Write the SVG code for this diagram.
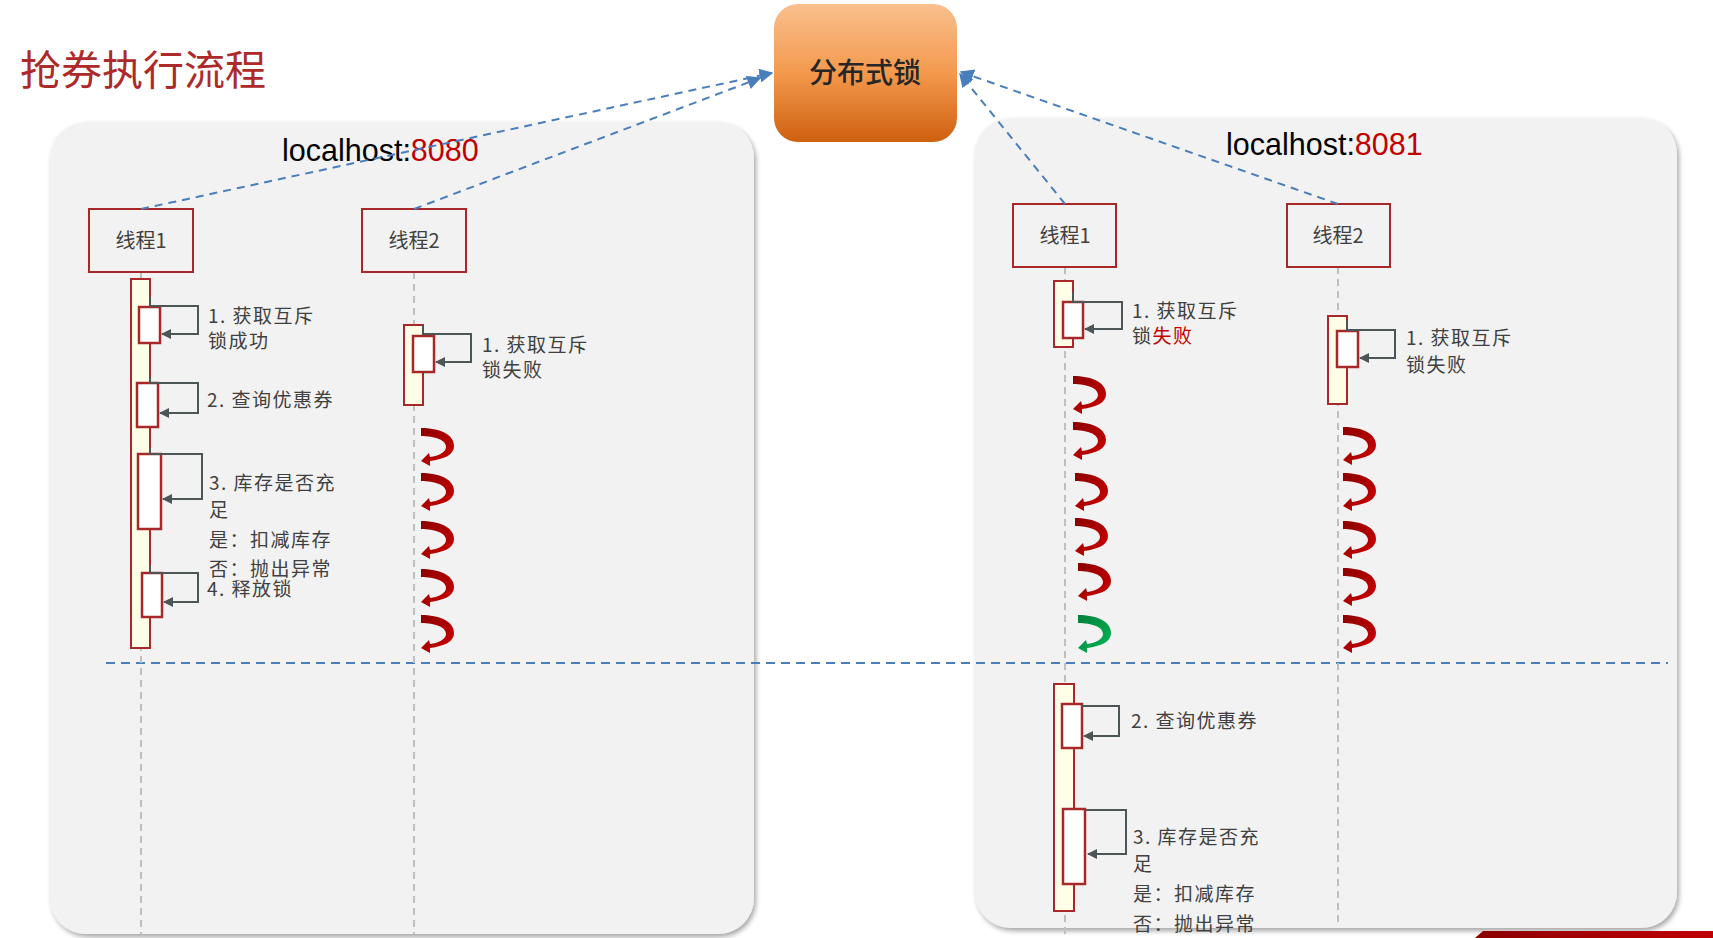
<svg xmlns="http://www.w3.org/2000/svg" width="1713" height="938" viewBox="0 0 1713 938">
<style>
.panel{fill:#F2F2F2;}
.thread{fill:none;stroke:#A8282A;stroke-width:2;}
.tt{font-family:"Noto Sans CJK SC","Noto Sans",sans-serif;font-size:20px;fill:#404040;text-anchor:middle;}
.lbl{font-family:"Noto Sans CJK SC","Noto Sans",sans-serif;font-size:19px;letter-spacing:1.5px;fill:#404040;}
.life{stroke:#BFBFBF;stroke-width:2;stroke-dasharray:7 5;fill:none;}
.act{fill:#FFFFE8;stroke:#A8282A;stroke-width:2;}
.sub{fill:#FFFFFF;stroke:#A8282A;stroke-width:2.5;}
.self{fill:none;stroke:#4D5656;stroke-width:2;marker-end:url(#ga);}
.conn{fill:none;stroke:#4A7EBB;stroke-width:2;stroke-dasharray:8 6;marker-end:url(#ba);}
.host{font-family:"Liberation Sans","Noto Sans",sans-serif;font-size:30.5px;fill:#000;}
.red{fill:#C00000;}
</style>
<defs>
<filter id="sh" x="-5%" y="-5%" width="110%" height="110%">
<feDropShadow dx="2" dy="3" stdDeviation="2.5" flood-color="#000" flood-opacity="0.35"/>
</filter>
<linearGradient id="og" x1="0" y1="0" x2="0" y2="1">
<stop offset="0" stop-color="#F9C08E"/>
<stop offset="0.5" stop-color="#F3994D"/>
<stop offset="1" stop-color="#CE600F"/>
</linearGradient>
<linearGradient id="rg" x1="0" y1="0" x2="1" y2="1">
<stop offset="0" stop-color="#8B0000"/>
<stop offset="1" stop-color="#D00000"/>
</linearGradient>
<linearGradient id="gg" x1="0" y1="0" x2="1" y2="1">
<stop offset="0" stop-color="#00803C"/>
<stop offset="1" stop-color="#00B854"/>
</linearGradient>
<linearGradient id="bannerg" x1="0" y1="0" x2="1" y2="0">
<stop offset="0" stop-color="#8B0000"/>
<stop offset="1" stop-color="#C00000"/>
</linearGradient>
<path id="curl" d="M0,0 C18,0 33,6 33,18 C33,27 23,31 9,33 L9,38 L0,33 L8,25 L9,29 C18,28 25,24 25,19 C25,12 14,8 0,8 Z"/>
<marker id="ga" viewBox="0 0 10 10" refX="9" refY="5" markerWidth="5" markerHeight="5" orient="auto" markerUnits="strokeWidth">
<path d="M0,0 L10,5 L0,10 Z" fill="#4D5656"/>
</marker>
<marker id="ba" viewBox="0 0 10 10" refX="9" refY="5" markerWidth="7" markerHeight="7" orient="auto" markerUnits="strokeWidth">
<path d="M0,0 L10,5 L0,10 Z" fill="#4A7EBB"/>
</marker>
</defs>

<text x="20" y="85" font-family="Noto Sans CJK SC,sans-serif" font-size="41" fill="#AE2A2A">抢券执行流程</text>

<g id="panel-8080">
<rect class="panel" x="50" y="122" width="704" height="812" rx="36" filter="url(#sh)"/>
<text class="host" x="282" y="161">localhost:<tspan class="red">8080</tspan></text>
</g>
<g id="panel-8081">
<rect class="panel" x="975" y="118" width="702" height="810" rx="36" filter="url(#sh)"/>
<text class="host" x="1226" y="155">localhost:<tspan class="red">8081</tspan></text>
</g>

<g id="lock">
<rect x="774" y="4" width="183" height="138" rx="24" fill="url(#og)"/>
<text x="865" y="83" font-family="Noto Sans CJK SC,sans-serif" font-size="28" fill="#262626" text-anchor="middle" font-weight="500">分布式锁</text>
</g>

<g id="divider">
<line x1="106" y1="663" x2="1668" y2="663" stroke="#4A7EBB" stroke-width="2" stroke-dasharray="9 6"/>
</g>

<g id="a-thread1">
<line class="life" x1="141" y1="272" x2="141" y2="934"/>
<rect class="thread" x="89" y="209" width="104" height="63"/>
<text class="tt" x="141" y="248">线程1</text>
<rect class="act" x="131" y="279" width="19" height="369"/>
<rect class="sub" x="139" y="307" width="21" height="36"/>
<path class="self" d="M150,297 V306 H198 V334 H162"/>
<text class="lbl" x="208" y="323">1. 获取互斥</text>
<text class="lbl" x="208" y="348">锁成功</text>
<rect class="sub" x="137" y="383" width="21" height="44"/>
<path class="self" d="M150,377 V383 H198 V413 H160"/>
<text class="lbl" x="207" y="407">2. 查询优惠券</text>
<rect class="sub" x="138" y="454" width="23" height="75"/>
<path class="self" d="M150,448 V454 H202 V499 H163"/>
<text class="lbl" x="209" y="490">3. 库存是否充</text>
<text class="lbl" x="209" y="517">足</text>
<text class="lbl" x="209" y="547">是：扣减库存</text>
<text class="lbl" x="209" y="576">否：抛出异常</text>
<rect class="sub" x="142" y="573" width="20" height="44"/>
<path class="self" d="M150,565 V573 H198 V602 H164"/>
<text class="lbl" x="207" y="596">4. 释放锁</text>
</g>

<g id="a-thread2">
<line class="life" x1="414" y1="272" x2="414" y2="934"/>
<rect class="thread" x="362" y="209" width="104" height="63"/>
<text class="tt" x="414" y="248">线程2</text>
<rect class="act" x="404" y="325" width="19" height="80"/>
<rect class="sub" x="413" y="336" width="21" height="36"/>
<path class="self" d="M423,325 V334 H471 V362 H436"/>
<text class="lbl" x="482" y="352">1. 获取互斥</text>
<text class="lbl" x="482" y="377">锁失败</text>
<use href="#curl" x="421" y="428" fill="url(#rg)"/>
<use href="#curl" x="421" y="473" fill="url(#rg)"/>
<use href="#curl" x="421" y="521" fill="url(#rg)"/>
<use href="#curl" x="421" y="569" fill="url(#rg)"/>
<use href="#curl" x="421" y="615" fill="url(#rg)"/>
</g>

<g id="b-thread1">
<line class="life" x1="1065" y1="267" x2="1065" y2="938"/>
<rect class="thread" x="1013" y="204" width="103" height="63"/>
<text class="tt" x="1065" y="243">线程1</text>
<rect class="act" x="1054" y="281" width="19" height="66"/>
<rect class="sub" x="1063" y="302" width="20" height="36"/>
<path class="self" d="M1073,292 V302 H1122 V329 H1085"/>
<text class="lbl" x="1132" y="318">1. 获取互斥</text>
<text class="lbl" x="1132" y="343">锁<tspan fill="#C00000">失败</tspan></text>
<use href="#curl" x="1073" y="376" fill="url(#rg)"/>
<use href="#curl" x="1073" y="422" fill="url(#rg)"/>
<use href="#curl" x="1075" y="473" fill="url(#rg)"/>
<use href="#curl" x="1075" y="518" fill="url(#rg)"/>
<use href="#curl" x="1078" y="563" fill="url(#rg)"/>
<use href="#curl" x="1078" y="615" fill="url(#gg)"/>
<rect class="act" x="1054" y="684" width="20" height="227"/>
<rect class="sub" x="1062" y="704" width="20" height="44"/>
<path class="self" d="M1082,706 H1119 V736 H1084"/>
<text class="lbl" x="1131" y="728">2. 查询优惠券</text>
<rect class="sub" x="1063" y="809" width="22" height="75"/>
<path class="self" d="M1085,810 H1126 V854 H1088"/>
<text class="lbl" x="1133" y="844">3. 库存是否充</text>
<text class="lbl" x="1133" y="871">足</text>
<text class="lbl" x="1133" y="901">是：扣减库存</text>
<text class="lbl" x="1133" y="931">否：抛出异常</text>
</g>

<g id="b-thread2">
<line class="life" x1="1338" y1="267" x2="1338" y2="926"/>
<rect class="thread" x="1287" y="204" width="103" height="63"/>
<text class="tt" x="1338" y="243">线程2</text>
<rect class="act" x="1328" y="316" width="19" height="88"/>
<rect class="sub" x="1337" y="331" width="21" height="36"/>
<path class="self" d="M1347,320 V330 H1395 V358 H1360"/>
<text class="lbl" x="1406" y="345">1. 获取互斥</text>
<text class="lbl" x="1406" y="372">锁失败</text>
<use href="#curl" x="1343" y="427" fill="url(#rg)"/>
<use href="#curl" x="1343" y="473" fill="url(#rg)"/>
<use href="#curl" x="1343" y="521" fill="url(#rg)"/>
<use href="#curl" x="1343" y="568" fill="url(#rg)"/>
<use href="#curl" x="1343" y="615" fill="url(#rg)"/>
</g>

<g id="connectors">
<path class="conn" d="M141,209 L772,73"/>
<path class="conn" d="M414,209 L760,78"/>
<path class="conn" d="M1065,204 L960,74"/>
<path class="conn" d="M1338,204 L961,72"/>
</g>

<polygon points="1475,938 1483,931 1713,931 1713,938" fill="url(#bannerg)"/>
</svg>
